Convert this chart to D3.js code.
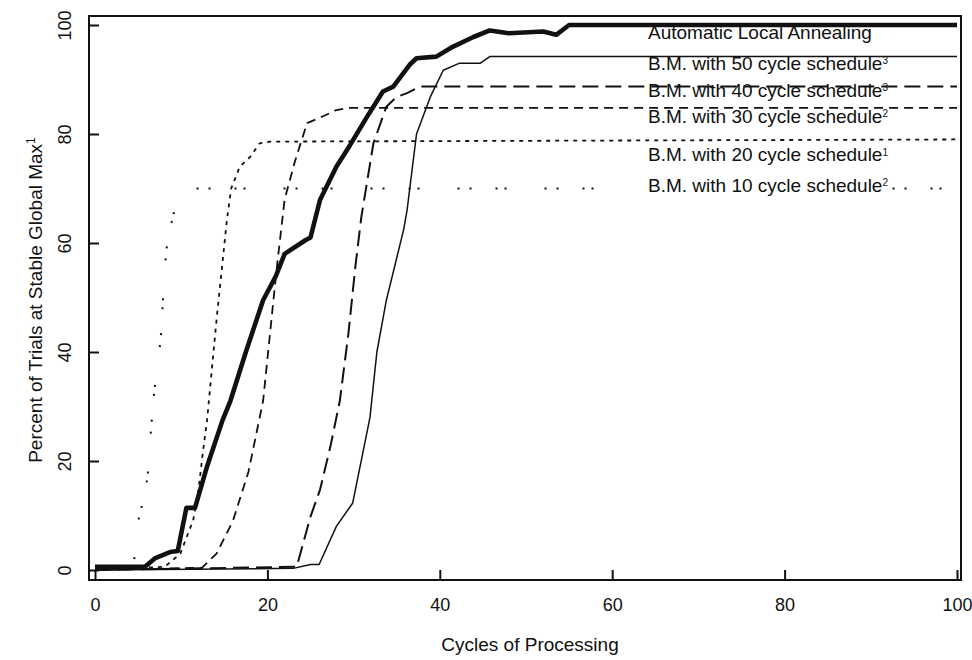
<!DOCTYPE html>
<html>
<head>
<meta charset="utf-8">
<script src="https://cdn.jsdelivr.net/npm/d3@7"></script>
<style>
  html, body { margin: 0; padding: 0; background: #fff; }
  svg { display: block; }
  text { font-family: "Liberation Sans", Arial, Helvetica, sans-serif; fill: #111; }
</style>
</head>
<body>
<div id="chart"></div>
<script>
// ---------- data ----------
const xTicks = [0, 20, 40, 60, 80, 100];
const yTicks = [0, 20, 40, 60, 80, 100];

const annealX = [0, 5.8, 7, 8.7, 9.6, 10.6, 11.6, 13, 14.8, 15.7, 17.5, 19.5, 21, 22, 24.4, 25, 26.1, 28, 29.6, 31.5, 33.4, 34.6, 36.5, 37.3, 39.6, 41.5, 43.9, 45.8, 48, 52, 53.5, 55, 100];
const annealY = [0.6, 0.6, 2.2, 3.3, 3.5, 11.4, 11.4, 19, 27.5, 31, 40, 49.5, 54, 58, 60.5, 61, 67.9, 74, 78, 83, 87.8, 88.7, 92.7, 93.9, 94.2, 96, 97.8, 99, 98.5, 98.8, 98.2, 100, 100];

const bm50X = [0, 23, 25, 26, 28, 29.9, 31.9, 32.7, 33.8, 35.8, 36.2, 37.3, 38.9, 40.4, 42.3, 44.7, 45.8, 100];
const bm50Y = [0, 0.3, 1, 1, 8, 12.3, 28, 40, 49.5, 62.4, 66, 80, 86.8, 91.7, 93, 93, 94.2, 94.2];

const bm40X = [0, 23.4, 25, 26.1, 27.3, 28.4, 29.4, 30.2, 30.9, 32.3, 33.8, 35, 36.2, 37.7, 100];
const bm40Y = [0, 0.6, 9.8, 14.7, 22.6, 31, 43.4, 55.6, 64.8, 78.3, 85, 86.8, 87.5, 88.7, 88.7];

const bm30X = [0, 12.4, 14.1, 16, 17.8, 19.5, 20.7, 21.2, 22, 23.2, 24.6, 26.1, 28, 29.6, 100];
const bm30Y = [0, 0.4, 3, 9, 18, 31, 49.5, 57, 68, 75, 82, 83, 84.4, 84.8, 84.8];

const bm20X = [0, 8.1, 9.9, 11.4, 12, 12.5, 13, 14.1, 15.3, 15.8, 16.8, 18, 19.1, 20.3, 100];
const bm20Y = [0, 0.6, 3, 9.2, 14.7, 21.4, 27.5, 45.9, 64.2, 70, 74, 75.8, 78.3, 78.6, 79];

const bm10X = [0, 4.5, 4.8, 5.3, 6.1, 6.3, 6.65, 6.8, 7.2, 7.5, 7.7, 7.9, 8.1, 8.4, 9.5, 10.5, 100];
const bm10Y = [0, 0.5, 7.9, 10.7, 17, 21.7, 28.8, 31.6, 37.3, 40.7, 44, 50, 55.4, 60.4, 68, 70, 70];

const seriesNames = [
  "Automatic Local Annealing",
  "B.M. with 50 cycle schedule",
  "B.M. with 40 cycle schedule",
  "B.M. with 30 cycle schedule",
  "B.M. with 20 cycle schedule",
  "B.M. with 10 cycle schedule"
];
const seriesNotes = ["", "3", "3", "2", "1", "2"];

const xTitle = "Cycles of Processing";
const yTitle = "Percent of Trials at Stable Global Max";
const yTitleNote = "1";

// ---------- layout / style ----------
const W = 972, H = 660;
const frame = { left: 89, right: 961, top: 16, bottom: 580 };
const x = d3.scaleLinear().domain([0, 100]).range([95, 957]);
const y = d3.scaleLinear().domain([0, 100]).range([570, 25]);

const styles = [
  { width: 4.6, dash: null },
  { width: 1.5, dash: null },
  { width: 2.0, dash: "16,7" },
  { width: 1.8, dash: "9,6" },
  { width: 1.8, dash: "4,5" },
  { width: 2.0, dash: "2,10,2,24,2,7,2,38" }
];
const labelDy = [14, 13, 10, 15, 22, 3];

const svg = d3.select("#chart").append("svg").attr("width", W).attr("height", H);

// frame
svg.append("rect")
  .attr("x", frame.left).attr("y", frame.top)
  .attr("width", frame.right - frame.left).attr("height", frame.bottom - frame.top)
  .attr("fill", "none").attr("stroke", "#111").attr("stroke-width", 2);

// axes
const yAxis = svg.append("g")
  .attr("transform", `translate(${frame.left},0)`)
  .call(d3.axisLeft(y).tickValues(yTicks).tickSize(-10).tickFormat(d3.format("d")));
yAxis.select(".domain").remove();
yAxis.selectAll("line").attr("stroke", "#111").attr("stroke-width", 2);
yAxis.selectAll("text")
  .attr("x", 0).attr("dy", "0.36em")
  .attr("text-anchor", "middle")
  .attr("transform", "translate(-24,0) rotate(-90)")
  .style("font-size", "18px").style("font-family", "'Liberation Sans', Arial, sans-serif").attr("fill", "#111");

const xAxis = svg.append("g")
  .attr("transform", `translate(0,${frame.bottom})`)
  .call(d3.axisBottom(x).tickValues(xTicks).tickSize(-10).tickFormat(d3.format("d")));
xAxis.select(".domain").remove();
xAxis.selectAll("line").attr("stroke", "#111").attr("stroke-width", 2);
xAxis.selectAll("text")
  .attr("y", 25).attr("dy", "0.36em")
  .style("font-size", "18px").style("font-family", "'Liberation Sans', Arial, sans-serif").attr("fill", "#111");

// titles
svg.append("text")
  .attr("x", 530).attr("y", 651)
  .attr("text-anchor", "middle")
  .style("font-size", "19px")
  .text(xTitle);

const yt = svg.append("text")
  .attr("transform", `translate(42,300) rotate(-90)`)
  .attr("text-anchor", "middle")
  .style("font-size", "19px");
yt.append("tspan").text(yTitle);
yt.append("tspan").attr("dy", "-0.6em").style("font-size", "12px").text(yTitleNote);

// series
const xs = [annealX, bm50X, bm40X, bm30X, bm20X, bm10X];
const ys = [annealY, bm50Y, bm40Y, bm30Y, bm20Y, bm10Y];
const line = d3.line().x(d => x(d[0])).y(d => y(d[1]));

const order = [5, 4, 3, 2, 1, 0];
order.forEach(i => {
  const pts = xs[i].map((v, k) => [v, ys[i][k]]);
  svg.append("path")
    .datum(pts)
    .attr("d", line)
    .attr("fill", "none")
    .attr("stroke", "#111")
    .attr("stroke-width", styles[i].width)
    .attr("stroke-linejoin", "round")
    .attr("stroke-dasharray", styles[i].dash);
});

// labels
seriesNames.forEach((name, i) => {
  const last = ys[i][ys[i].length - 1];
  const by = y(last) + labelDy[i];
  if (i === 5) {
    // the sparse dotted series leaves a gap around its label
    svg.append("rect")
      .attr("x", 596).attr("y", by - 16)
      .attr("width", 296).attr("height", 22)
      .attr("fill", "#fff");
  }
  const t = svg.append("text")
    .attr("x", 648)
    .attr("y", by)
    .style("font-size", "19px");
  t.append("tspan").text(name);
  if (seriesNotes[i]) {
    t.append("tspan").attr("dy", "-0.55em").style("font-size", "10px").text(seriesNotes[i]);
  }
});
</script>
</body>
</html>
